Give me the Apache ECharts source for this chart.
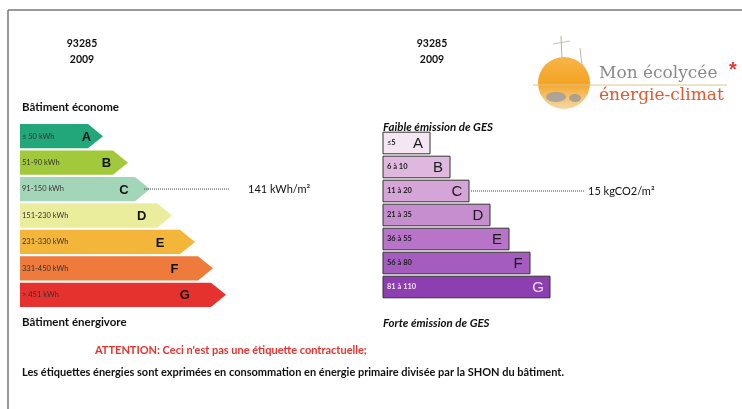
<!DOCTYPE html>
<html>
<head>
<meta charset="utf-8">
<script src="https://cdn.jsdelivr.net/npm/echarts@6/dist/echarts.min.js"></script>
<style>
  html, body { margin: 0; padding: 0; background: #fff; }
  #main { width: 742px; height: 409px; }
</style>
</head>
<body>
<div id="main"></div>
<script>
// classes énergie (kWh/m².an)
const energyClasses = ["A", "B", "C", "D", "E", "F", "G"];
const energyRanges = ["≤ 50 kWh", "51-90 kWh", "91-150 kWh", "151-230 kWh", "231-330 kWh", "331-450 kWh", "> 451 kWh"];
const energyLengths = [83, 108, 130, 152, 175, 193, 206];

// classes GES (kgCO2/m².an)
const gesClasses = ["A", "B", "C", "D", "E", "F", "G"];
const gesRanges = ["≤5", "6 à 10", "11 à 20", "21 à 35", "36 à 55", "56 à 80", "81 à 110"];
const gesLengths = [47, 67, 86, 107, 126, 147, 167];

// relevé du bâtiment
const energyReading = 141;
const energyReadingClass = "C";
const gesReading = 15;
const gesReadingClass = "C";
const codePostal = "93285";
const annee = "2009";

const energyColors = ["#22a77a", "#a2c83c", "#a3d6b8", "#eaee9c", "#f3b53a", "#ee7a3b", "#e6322e"];
const gesColors = ["#f4e6f3", "#dfb8df", "#d5a5d8", "#c78ecf", "#b774c8", "#a45cbf", "#8d3fb2"];

const FONT = "Lato";

const chart = echarts.init(document.getElementById("main"), null, { renderer: "canvas" });

// flèches étiquette énergie
function renderEnergy(params, api) {
  const i = params.dataIndex;
  const p0 = api.coord([0, i]);
  const p1 = api.coord([api.value(0), i]);
  const h = api.size([0, 1])[1] * 0.92;
  const tip = 15;
  const x0 = p0[0], x1 = p1[0], yc = p0[1];
  const children = [
    {
      type: "polygon",
      shape: { points: [[x0, yc - h / 2], [x1 - tip, yc - h / 2], [x1, yc], [x1 - tip, yc + h / 2], [x0, yc + h / 2]] },
      style: { fill: energyColors[i] }
    },
    {
      type: "text",
      style: { text: energyRanges[i], x: x0 + 2, y: yc, fill: "#333", font: "7.5px " + FONT, verticalAlign: "middle" }
    },
    {
      type: "text",
      style: { text: energyClasses[i], x: x0 + (x1 - x0) * 0.8, y: yc + 1, fill: "#111", font: "bold 13px Liberation Sans", align: "center", verticalAlign: "middle" }
    }
  ];
  if (energyClasses[i] === energyReadingClass) {
    children.push({
      type: "line",
      shape: { x1: x1 - 6, y1: yc, x2: 230, y2: yc },
      style: { stroke: "#444", lineWidth: 1, lineDash: [1, 1] }
    });
    children.push({
      type: "text",
      style: { text: energyReading + " kWh/m²", x: 248, y: yc, fill: "#111", font: "11px " + FONT, verticalAlign: "middle" }
    });
  }
  return { type: "group", children: children };
}

// barres étiquette GES
function renderGes(params, api) {
  const i = params.dataIndex;
  const p0 = api.coord([0, i]);
  const p1 = api.coord([api.value(0), i]);
  const h = api.size([0, 1])[1] * 0.9;
  const x0 = p0[0], x1 = p1[0], yc = p0[1];
  const light = i === 6;
  const children = [
    {
      type: "rect",
      shape: { x: x0, y: yc - h / 2, width: x1 - x0, height: h },
      style: { fill: gesColors[i], stroke: "#333", lineWidth: 1 }
    },
    {
      type: "text",
      style: { text: gesRanges[i], x: x0 + 4, y: yc, fill: light ? "#f1e4f4" : "#222", font: "bold 7.5px " + FONT, verticalAlign: "middle" }
    },
    {
      type: "text",
      style: { text: gesClasses[i], x: x1 - 12, y: yc + 1, fill: light ? "#eadcf0" : "#1a1a1a", font: "15px Liberation Sans", align: "center", verticalAlign: "middle" }
    }
  ];
  if (gesClasses[i] === gesReadingClass) {
    children.push({
      type: "line",
      shape: { x1: x1 + 2, y1: yc, x2: 585, y2: yc },
      style: { stroke: "#444", lineWidth: 1, lineDash: [1, 1] }
    });
    children.push({
      type: "text",
      style: { text: gesReading + " kgCO2/m²", x: 588, y: yc, fill: "#111", font: "11px " + FONT, verticalAlign: "middle" }
    });
  }
  return { type: "group", children: children };
}

function txt(text, x, y, font, color, align) {
  return {
    type: "text",
    x: x, y: y,
    style: { text: text, font: font, fill: color || "#111", align: align || "left", verticalAlign: "middle" }
  };
}

const option = {
  backgroundColor: "#fff",
  animation: false,
  grid: [
    { left: 20, top: 123, width: 300, height: 185 },
    { left: 383, top: 131, width: 300, height: 168 }
  ],
  xAxis: [
    { gridIndex: 0, type: "value", min: 0, max: 300, show: false },
    { gridIndex: 1, type: "value", min: 0, max: 300, show: false }
  ],
  yAxis: [
    { gridIndex: 0, type: "category", data: energyClasses, inverse: true, show: false },
    { gridIndex: 1, type: "category", data: gesClasses, inverse: true, show: false }
  ],
  series: [
    {
      type: "custom",
      xAxisIndex: 0, yAxisIndex: 0,
      renderItem: renderEnergy,
      encode: { x: 0, y: 1 },
      data: energyLengths.map((v, i) => [v, i])
    },
    {
      type: "custom",
      xAxisIndex: 1, yAxisIndex: 1,
      renderItem: renderGes,
      encode: { x: 0, y: 1 },
      data: gesLengths.map((v, i) => [v, i])
    }
  ],
  graphic: [
    // cadre
    { type: "line", shape: { x1: 8, y1: 10, x2: 742, y2: 10 }, style: { stroke: "#777", lineWidth: 1.5 } },
    { type: "line", shape: { x1: 8, y1: 10, x2: 8, y2: 409 }, style: { stroke: "#777", lineWidth: 1.5 } },

    txt(codePostal, 82, 44, "bold 10.5px " + FONT, "#111", "center"),
    txt(annee, 82, 60, "bold 10.5px " + FONT, "#111", "center"),
    txt(codePostal, 432, 44, "bold 10.5px " + FONT, "#111", "center"),
    txt(annee, 432, 60, "bold 10.5px " + FONT, "#111", "center"),

    txt("Bâtiment économe", 22, 107, "bold 11.5px " + FONT),
    txt("Bâtiment énergivore", 22, 322, "bold 11.5px " + FONT),
    txt("Faible émission de GES", 383, 127, "italic bold 11.5px " + FONT),
    txt("Forte émission de GES", 383, 323, "italic bold 11.5px " + FONT),

    txt("ATTENTION: Ceci n'est pas une étiquette contractuelle;", 95, 350, "bold 11px " + FONT, "#e8322e"),
    txt("Les étiquettes énergies sont exprimées en consommation en énergie primaire divisée par la SHON du bâtiment.", 22, 372, "bold 11px " + FONT),

    // logo
    { type: "line", shape: { x1: 561, y1: 36, x2: 562, y2: 60 }, style: { stroke: "#b9b0a0", lineWidth: 1 } },
    { type: "line", shape: { x1: 553, y1: 44, x2: 570, y2: 41 }, style: { stroke: "#c9c0b0", lineWidth: 1 } },
    { type: "line", shape: { x1: 580, y1: 48, x2: 582, y2: 66 }, style: { stroke: "#c9b89a", lineWidth: 1 } },
    {
      type: "circle",
      shape: { cx: 564, cy: 83, r: 26 },
      style: {
        fill: new echarts.graphic.LinearGradient(0, 0, 0, 1, [
          { offset: 0, color: "#f7b548" },
          { offset: 0.5, color: "#f4a324" },
          { offset: 0.75, color: "#f6c06a" },
          { offset: 1, color: "#f3d7a4" }
        ])
      }
    },
    { type: "ellipse", shape: { cx: 556, cy: 97, rx: 10, ry: 5 }, style: { fill: "#8e97a8", opacity: 0.7 } },
    { type: "ellipse", shape: { cx: 575, cy: 98, rx: 6, ry: 4 }, style: { fill: "#7d8aa0", opacity: 0.6 } },
    { type: "line", shape: { x1: 533, y1: 85, x2: 727, y2: 85 }, style: { stroke: "#dcc48f", lineWidth: 1 } },
    txt("Mon écolycée", 599, 74, "17px DejaVu Serif", "#8c8a88"),
    txt("énergie-climat", 599, 96, "17px DejaVu Serif", "#e15a2d"),
    txt("*", 733, 70, "bold 20px Liberation Sans", "#e8382f", "center")
  ]
};

chart.setOption(option);
</script>
</body>
</html>
